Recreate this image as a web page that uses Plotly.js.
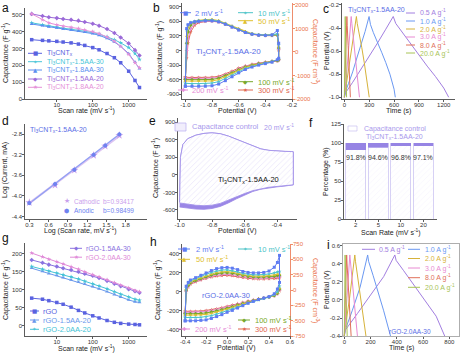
<!DOCTYPE html>
<html><head><meta charset="utf-8">
<script src="https://cdn.plot.ly/plotly-3.0.1.min.js"></script>
<style>html,body{margin:0;padding:0;background:#fff}#chart{width:460px;height:355px}</style>
</head><body><div id="chart"></div>
<script>
// ---------- DATA ----------
// (a) capacitance vs scan rate
const RATES = [2,4,6,10,15,25,40,60,100,150,250,400,600,1000,1500,2000];
const A_TI3CNTX   = [352,348,345,342,338,333,326,318,305,292,270,245,215,165,110,68];
const A_15AA30    = [452,440,433,427,420,414,408,402,394,385,370,352,333,305,270,235];
const A_18AA30    = [445,435,428,422,416,410,404,398,388,378,360,338,312,270,220,180];
const A_15AA20    = [505,492,485,480,475,470,465,457,447,435,415,392,365,330,290,258];
const A_18AA20    = [505,470,452,440,432,425,418,410,400,388,368,343,312,265,215,185];
// (b) CV loops, Ti3CNTx-1.5AA-20
const B_POT = [-1.0,-0.99,-0.98,-0.96,-0.93,-0.9,-0.85,-0.8,-0.75,-0.7,-0.65,-0.6,-0.55,-0.5,-0.45,-0.4,-0.35,-0.31,-0.3,
               -0.3,-0.31,-0.35,-0.4,-0.45,-0.5,-0.55,-0.6,-0.65,-0.7,-0.75,-0.8,-0.85,-0.9,-0.95,-1.0];
const B_2   = [-735,450,530,570,590,600,610,610,590,540,480,420,370,335,315,310,320,410,150,
               -160,-190,-240,-270,-300,-340,-390,-460,-540,-620,-690,-725,-735,-735,-735,-735];
const B_10  = [-675,420,520,575,600,615,625,625,600,550,490,430,375,340,320,315,320,340,120,
               -170,-190,-230,-260,-290,-330,-370,-440,-510,-580,-640,-670,-680,-680,-680,-675];
const B_50  = [-625,300,470,560,600,620,635,640,615,560,500,440,385,345,325,318,320,330,80,
               -180,-200,-230,-255,-280,-310,-350,-410,-480,-545,-600,-625,-630,-630,-630,-625];
const B_100 = [-595,150,380,520,580,605,620,620,600,550,495,435,380,340,320,312,315,320,50,
               -190,-205,-225,-250,-270,-300,-340,-395,-460,-520,-570,-595,-600,-600,-600,-595];
const B_200 = [-570,0,250,450,550,585,605,610,590,545,490,430,375,335,315,308,310,315,30,
               -195,-210,-225,-245,-265,-290,-325,-375,-440,-500,-550,-570,-575,-575,-575,-570];
const B_300 = [-550,-150,150,380,520,570,595,600,585,540,485,425,370,332,312,305,305,310,0,
               -200,-215,-225,-240,-260,-285,-315,-360,-425,-485,-530,-550,-555,-555,-555,-550];
// (c) GCD, Ti3CNTx-1.5AA-20
const C05_T = [0,15,100,200,300,400,500,590,620,700,800,900,1000,1100,1200,1260];
const C05_V = [-1.0,-0.96,-0.87,-0.76,-0.65,-0.53,-0.41,-0.30,-0.36,-0.44,-0.53,-0.64,-0.73,-0.82,-0.92,-1.0];
const C1_T  = [0,8,50,100,150,200,250,298,315,350,400,450,500,550,600,615];
const C1_V  = [-1.0,-0.96,-0.88,-0.78,-0.66,-0.55,-0.43,-0.30,-0.37,-0.44,-0.52,-0.61,-0.70,-0.80,-0.93,-1.0];
const C2_T  = [0,4,25,50,75,100,125,145,155,180,210,240,270,300];
const C2_V  = [-1.0,-0.96,-0.88,-0.76,-0.63,-0.50,-0.39,-0.30,-0.36,-0.45,-0.57,-0.70,-0.83,-1.0];
const C3_T  = [0,3,20,40,60,82,90,110,130,150,170,182];
const C3_V  = [-1.0,-0.96,-0.86,-0.70,-0.53,-0.30,-0.36,-0.50,-0.64,-0.78,-0.91,-1.0];
const C8_T  = [0,2,10,20,30,34,45,55,65,72];
const C8_V  = [-1.0,-0.95,-0.80,-0.58,-0.30,-0.38,-0.55,-0.70,-0.86,-1.0];
const C20_T = [0,1,5,10,12,17,22,26];
const C20_V = [-1.0,-0.94,-0.68,-0.30,-0.38,-0.60,-0.82,-1.0];
// (d) log current vs log scan rate
const D_LOGV = [0.30,0.70,1.00,1.30,1.48,1.70];
const D_CATH = [-4.13,-3.79,-3.50,-3.21,-3.03,-2.82];
const D_ANOD = [-4.14,-3.77,-3.49,-3.20,-3.02,-2.80];
const D_FIT_X = [0.30,1.70];
const D_FIT_CATH = [-4.14,-2.83];
const D_FIT_ANOD = [-4.15,-2.80];
// (e) capacitive contribution at 20 mV/s
const E_POT = [-1.0,-0.995,-0.98,-0.95,-0.9,-0.85,-0.8,-0.75,-0.7,-0.65,-0.6,-0.55,-0.5,-0.45,-0.4,-0.35,-0.31,-0.3,
               -0.3,-0.31,-0.35,-0.4,-0.45,-0.5,-0.55,-0.6,-0.65,-0.7,-0.75,-0.8,-0.85,-0.9,-0.95,-0.99,-1.0];
const E_UP        = [-470,300,520,620,680,710,720,705,665,610,550,490,445,420,408,402,400,395];
const E_LOW_TOTAL = [-170,-175,-190,-205,-220,-245,-285,-345,-410,-480,-540,-575,-590,-585,-570,-560,-550];
const E_LOW_CAP   = [-170,-172,-185,-198,-212,-235,-270,-320,-378,-438,-488,-518,-528,-520,-505,-490,-480];
// (f) capacitive percentage
const F_RATES = ['2','5','10','20'];
const F_CAP = [91.8,94.6,96.8,97.1];
// (g) rGO capacitance vs scan rate
const G_RGO    = [77,74,70,65,60,52,43,36,28,22,15,10,7,5,4,3];
const G_15AA20 = [160,151,145,140,134,128,122,116,109,103,95,87,80,72,67,65];
const G_20AA20 = [165,157,152,147,142,136,130,124,117,111,103,95,88,80,74,71];
const G_15AA30 = [183,175,170,165,160,155,150,145,139,133,125,117,110,102,96,92];
const G_20AA30 = [202,192,185,178,172,164,157,150,142,136,128,120,113,105,98,95];
// (h) CV loops, rGO-2.0AA-30
const H_POT = [-0.4,-0.39,-0.37,-0.35,-0.3,-0.25,-0.2,-0.15,-0.1,-0.05,0.0,0.05,0.1,0.15,0.2,0.25,0.3,0.35,0.4,0.45,0.48,0.5,
               0.5,0.48,0.45,0.4,0.35,0.3,0.25,0.2,0.15,0.1,0.05,0.0,-0.05,-0.1,-0.15,-0.2,-0.25,-0.3,-0.35,-0.4];
const H_2   = [-305,60,100,125,150,175,200,225,245,255,258,250,235,215,205,200,200,205,220,260,310,385,
               100,30,-20,-50,-65,-80,-100,-120,-145,-170,-195,-215,-240,-260,-280,-295,-300,-305,-305,-305];
const H_10  = [-270,40,90,115,140,165,185,205,220,230,232,225,210,195,185,180,180,182,188,200,210,215,
               60,0,-30,-55,-70,-85,-100,-118,-140,-160,-180,-200,-220,-235,-250,-262,-268,-270,-270,-270];
const H_50  = [-245,30,80,105,130,150,170,190,205,212,215,208,195,182,172,168,166,168,172,178,185,190,
               40,-10,-35,-55,-68,-80,-95,-110,-128,-145,-165,-182,-200,-215,-228,-238,-243,-245,-245,-245];
const H_100 = [-230,20,70,95,120,140,160,178,192,200,202,196,185,172,163,158,156,157,160,165,172,175,
               30,-15,-38,-55,-66,-78,-92,-106,-122,-138,-156,-172,-188,-200,-212,-222,-228,-230,-230,-230];
const H_200 = [-215,10,60,88,112,132,150,166,178,185,187,182,172,160,152,147,145,146,148,152,158,160,
               20,-18,-40,-55,-65,-76,-88,-101,-116,-130,-146,-160,-175,-188,-198,-207,-212,-214,-215,-215];
const H_300 = [-205,0,50,80,105,125,142,156,166,172,174,170,160,150,142,137,135,135,137,140,145,148,
               10,-20,-40,-52,-62,-72,-84,-96,-110,-124,-138,-152,-166,-178,-188,-196,-202,-205,-205,-205];
// (i) GCD, rGO-2.0AA-30
const I05_T = [0,10,100,200,300,385,395,450,500,600,700,765];
const I05_V = [-0.40,-0.33,-0.15,0.05,0.26,0.50,0.44,0.33,0.23,0.03,-0.18,-0.40];
const I1_T  = [0,5,60,120,178,185,220,250,300,352];
const I1_V  = [-0.40,-0.34,-0.12,0.14,0.50,0.43,0.27,0.13,-0.12,-0.40];
const I2_T  = [0,3,40,80,85,100,120,140,165];
const I2_V  = [-0.40,-0.35,0.02,0.50,0.43,0.28,0.08,-0.13,-0.40];
const I3_T  = [0,2,20,42,47,60,80,100];
const I3_V  = [-0.40,-0.35,0.02,0.50,0.42,0.24,-0.06,-0.40];
const I8_T  = [0,1,10,18,21,30,40,52];
const I8_V  = [-0.40,-0.34,0.08,0.50,0.40,0.12,-0.14,-0.40];
const I20_T = [0,1,6,8,13,18,22];
const I20_V = [-0.40,-0.30,0.50,0.40,0.05,-0.22,-0.40];

// ---------- STYLE ----------
const FONT = 'Liberation Sans, Arial, sans-serif';
const W = 460, H = 355;
const px = x => x / W, py = y => 1 - y / H;
const ORANGE = '#ea7148', TBLUE = '#5b6ee6', LAV = '#a898ec';
const CV = {c2:'#5f7cf2', c10:'#4cc4c8', c50:'#e0c02f', c100:'#78a82c', c200:'#e58ad6', c300:'#e0654f'};
const GC = {c05:'#a27ee0', c1:'#6a98f2', c2:'#d6b23a', c3:'#e88ad2', c8:'#e0705a', c20:'#a8c456'};
const TI = 'Ti<sub>3</sub>CNT<sub>x</sub>';

const layout = {
  width: W, height: H, margin: {l:0, r:0, t:0, b:0},
  paper_bgcolor: '#fff', plot_bgcolor: 'rgba(0,0,0,0)',
  showlegend: false, barmode: 'stack',
  font: {family: FONT, size: 7, color: '#222'},
  shapes: [], annotations: []
};

// tick values with plain hyphen minus labels
function tv(vals, dec) {
  return {tickvals: vals, ticktext: vals.map(v => (v < 0 ? '-' : '') + Math.abs(v).toFixed(dec))};
}
function baseAx(extra) {
  return Object.assign({
    showgrid: false, zeroline: false, showline: true, linecolor: '#333', linewidth: 0.8,
    ticks: 'outside', ticklen: 2, tickwidth: 0.8, tickcolor: '#333', ticklabelstandoff: -1,
    tickfont: {size: 6, color: '#333', family: FONT}, fixedrange: true
  }, extra);
}
function panel(n, l, r, t, b, xo, yo) {
  const s = n === 1 ? '' : String(n);
  layout['xaxis' + s] = baseAx(Object.assign({domain: [px(l), px(r)], anchor: 'y' + s, ticklabelstandoff: -2}, xo));
  layout['yaxis' + s] = baseAx(Object.assign({domain: [py(b), py(t)], anchor: 'x' + s}, yo));
}
function ann(x, y, text, o) {
  layout.annotations.push(Object.assign({xref: 'paper', yref: 'paper', x: px(x), y: py(y), text: text,
    showarrow: false, xanchor: 'center', yanchor: 'middle', font: {size: 7, color: '#222', family: FONT}}, o || {}));
}
function legItem(x0, x1, y, color, glyph, label, tx, size, gsize) {
  layout.shapes.push({type: 'line', xref: 'paper', yref: 'paper', x0: px(x0), x1: px(x1), y0: py(y), y1: py(y),
    line: {color: color, width: 1}});
  if (glyph) ann((x0 + x1) / 2, y, glyph, {font: {size: gsize || 5.5, color: color, family: 'DejaVu Sans'}});
  ann(tx, y, label, {xanchor: 'left', font: {size: size || 7, color: color, family: FONT}});
}

// ---------- AXES ----------
const logTicks = {type: 'log', range: [0.115, 3.51], tickvals: [10, 100, 1000], ticktext: ['10', '100', '1000']};
panel(1, 25, 147, 8, 99, logTicks, Object.assign({range: [0, 540]}, tv([0,100,200,300,400,500], 0)));
panel(2, 182, 292, 3, 99, Object.assign({range: [-1.025, -0.2]}, tv([-1.0,-0.8,-0.6,-0.4,-0.2], 1)),
      Object.assign({range: [-997, 976]}, tv([-900,-600,-300,0,300,600,900], 0)));
panel(3, 342, 455, 3, 99, Object.assign({range: [-29, 1336]}, tv([0,300,600,900,1200], 0)),
      Object.assign({range: [-1.015, -0.183]}, tv([-1.0,-0.8,-0.6,-0.4,-0.2], 1)));
panel(4, 25, 147, 124, 219, Object.assign({range: [0.233, 2.13]}, tv([0.3,0.6,0.9,1.2,1.5,1.8], 1)),
      Object.assign({range: [-4.45, -2.6]}, tv([-4.4,-4.0,-3.6,-3.2,-2.8], 1)));
panel(5, 178, 297, 118, 219, Object.assign({range: [-1.01, -0.277]}, tv([-1.0,-0.8,-0.6,-0.4], 1)),
      Object.assign({range: [-755, 974]}, tv([-600,-300,0,300,600,900], 0)));
panel(6, 344, 437, 124.3, 219.3, {type: 'category', range: [-0.52, 3.6]},
      Object.assign({range: [0, 125]}, tv([0,25,50,75,100,125], 0)));
panel(7, 25, 147, 243, 336, logTicks, Object.assign({range: [-28, 230]}, tv([0,50,100,150,200], 0)));
panel(8, 182, 290, 244, 336, Object.assign({range: [-0.43, 0.6]}, tv([-0.4,-0.2,0,0.2,0.4,0.6], 1)),
      Object.assign({range: [-465, 505]}, tv([-400,-200,0,200,400], 0)));
panel(9, 343, 459, 244, 336, Object.assign({range: [-10, 874], mirror: true, linecolor: '#9a9a9a'}, tv([0,200,400,600,800], 0)),
      Object.assign({range: [-0.4, 0.622], mirror: true, linecolor: '#9a9a9a'}, tv([-0.4,-0.2,0,0.2,0.4,0.6], 1)));
const rightAx = (ov, anc, rng, vals) => baseAx(Object.assign({overlaying: ov, side: 'right', anchor: anc, range: rng,
  linecolor: ORANGE, tickcolor: ORANGE, tickfont: {size: 6, color: ORANGE, family: FONT}}, tv(vals, 0)));
layout.yaxis10 = rightAx('y2', 'x2', [-2000, 2080], [-2000,-1000,0,1000,2000]);
layout.yaxis11 = rightAx('y8', 'x8', [-750, 750], [-750,-500,-250,0,250,500,750]);

// ---------- TRACES ----------
const traces = [];
function line(xa, ya, x, y, color, sym, o) {
  traces.push(Object.assign({type: 'scatter', mode: sym ? 'lines+markers' : 'lines', x: x, y: y, xaxis: xa, yaxis: ya,
    line: {color: color, width: 1}, marker: {symbol: sym || 'circle', size: 3.5, color: color},
    hoverinfo: 'skip'}, o || {}));
}
const cvm = (s, c) => ({marker: {symbol: s, size: 3, color: c}});
// a
line('x','y', RATES, A_TI3CNTX, '#5a62e0', 'square');
line('x','y', RATES, A_15AA30, '#48c6d8', 'star');
line('x','y', RATES, A_18AA30, '#5a8ef0', 'triangle-up');
line('x','y', RATES, A_15AA20, '#9b6ad8', 'diamond');
line('x','y', RATES, A_18AA20, '#e590d8', 'star');
// b
line('x2','y2', B_POT, B_300, CV.c300, 'star', cvm('star', CV.c300));
line('x2','y2', B_POT, B_200, CV.c200, 'cross', cvm('cross', CV.c200));
line('x2','y2', B_POT, B_100, CV.c100, 'diamond', cvm('diamond', CV.c100));
line('x2','y2', B_POT, B_50, CV.c50, 'triangle-up', cvm('triangle-up', CV.c50));
line('x2','y2', B_POT, B_10, CV.c10, 'star', cvm('star', CV.c10));
line('x2','y2', B_POT, B_2, CV.c2, 'square', cvm('square', CV.c2));
traces.push({type:'scatter', x:[], y:[], xaxis:'x2', yaxis:'y10'});
// c
line('x3','y3', C05_T, C05_V, GC.c05);
line('x3','y3', C1_T, C1_V, GC.c1);
line('x3','y3', C2_T, C2_V, GC.c2);
line('x3','y3', C3_T, C3_V, GC.c3);
line('x3','y3', C8_T, C8_V, GC.c8);
line('x3','y3', C20_T, C20_V, GC.c20);
// d
line('x4','y4', D_FIT_X, D_FIT_CATH, '#dcc4f2', null, {line:{color:'#dcc4f2', width:2.2}});
line('x4','y4', D_FIT_X, D_FIT_ANOD, '#8fa0f4', null, {line:{color:'#8fa0f4', width:1.2}});
traces.push({type:'scatter', mode:'markers', x:D_LOGV, y:D_CATH, xaxis:'x4', yaxis:'y4', hoverinfo:'skip',
  marker:{symbol:'star', size:6, color:'#c9a0ec'}});
traces.push({type:'scatter', mode:'markers', x:D_LOGV, y:D_ANOD, xaxis:'x4', yaxis:'y4', hoverinfo:'skip',
  marker:{symbol:'hexagon', size:4.5, color:'#6f82f0'}});
// e
traces.push({type:'scatter', mode:'lines', x:E_POT, y:E_UP.concat(E_LOW_TOTAL), xaxis:'x5', yaxis:'y5',
  fill:'toself', fillcolor:'#9a86e6', line:{color:'#9a86e6', width:0.8}, hoverinfo:'skip'});
traces.push({type:'scatter', mode:'lines', x:E_POT, y:E_UP.concat(E_LOW_CAP), xaxis:'x5', yaxis:'y5',
  fill:'toself', fillcolor:'#ffffff', fillpattern:{shape:'/', fgcolor:'#e2dcf8', bgcolor:'#ffffff', size:4, solidity:0.15},
  line:{color:'#a392ea', width:0.9}, hoverinfo:'skip'});
// f
traces.push({type:'bar', x:F_RATES, y:F_CAP, xaxis:'x6', yaxis:'y6', width:0.88, hoverinfo:'skip',
  marker:{color:'#ffffff', line:{color:'#cdc5f3', width:0.8}, pattern:{shape:'/', fgcolor:'#f0edfc', size:4, solidity:0.1}}});
traces.push({type:'bar', x:F_RATES, y:F_CAP.map(v => 100 - v), xaxis:'x6', yaxis:'y6', width:0.88, hoverinfo:'skip',
  marker:{color:'#9684e4', line:{color:'#9684e4', width:0.5}}});
F_CAP.forEach((v, i) => layout.annotations.push({xref:'x6', yref:'y6', x:i, y:81, text:v.toFixed(1) + '%',
  showarrow:false, xanchor:'center', yanchor:'middle', font:{size:7, color:'#333', family:FONT}}));
// g
line('x7','y7', RATES, G_RGO, '#5a62e0', 'square');
line('x7','y7', RATES, G_15AA20, '#6a98ec', 'triangle-up');
line('x7','y7', RATES, G_20AA20, '#45c3d6', 'star');
line('x7','y7', RATES, G_15AA30, '#8a72e0', 'diamond');
line('x7','y7', RATES, G_20AA30, '#e08ad8', 'star');
// h
line('x8','y8', H_POT, H_300, CV.c300, 'star', cvm('star', CV.c300));
line('x8','y8', H_POT, H_200, CV.c200, 'cross', cvm('cross', CV.c200));
line('x8','y8', H_POT, H_100, CV.c100, 'diamond', cvm('diamond', CV.c100));
line('x8','y8', H_POT, H_50, CV.c50, 'triangle-up', cvm('triangle-up', CV.c50));
line('x8','y8', H_POT, H_10, CV.c10, 'star', cvm('star', CV.c10));
line('x8','y8', H_POT, H_2, CV.c2, 'square', cvm('square', CV.c2));
traces.push({type:'scatter', x:[], y:[], xaxis:'x8', yaxis:'y11'});
// i
line('x9','y9', I05_T, I05_V, GC.c05);
line('x9','y9', I1_T, I1_V, GC.c1);
line('x9','y9', I2_T, I2_V, GC.c2);
line('x9','y9', I3_T, I3_V, GC.c3);
line('x9','y9', I8_T, I8_V, GC.c8);
line('x9','y9', I20_T, I20_V, GC.c20);

// ---------- TEXT: panel letters, axis titles, legends, labels ----------
const LET = {size: 12, color: '#111', family: FONT};
[['a',5,8],['b',156,8],['c',326,9],['d',5,121],['e',152,121],['f',311,123],['g',5,238],['h',153,242],['i',328,245]]
  .forEach(([t, x, y]) => ann(x, y, t, {font: LET}));

const CAPG = 'Capacitance (F g<sup>-1</sup>)', CAPV = 'Capacitance (F cm<sup>-3</sup>)';
const SR = 'Scan rate (mV s<sup>-1</sup>)', POT = 'Potential (V)';
const RT = {size: 7, color: ORANGE, family: FONT};
// a
ann(5, 53, CAPG, {textangle: -90}); ann(86, 110.5, SR);
// b
ann(159, 51, CAPG, {textangle: -90}); ann(237, 110.5, POT);
ann(316, 51, CAPV, {textangle: 90, font: RT});
// c
ann(327, 51, POT, {textangle: -90}); ann(398, 110.5, 'Time (s)');
// d
ann(5, 170, 'Log (Current, mA)', {textangle: -90}); ann(80, 230.5, 'Log (Scan rate, mV s<sup>-1</sup>)');
// e
ann(155, 168, CAPG, {textangle: -90}); ann(237, 230.5, POT);
// f
ann(326, 172, 'Percentage (%)', {textangle: -90}); ann(391, 232, 'Scan Rate (mV s<sup>-1</sup>)');
// g
ann(5, 290, CAPG, {textangle: -90}); ann(86, 348, SR);
// h
ann(157, 290, CAPG, {textangle: -90}); ann(236, 348, POT);
ann(316, 290, CAPV, {textangle: 90, font: RT});
// i
ann(327, 290, POT, {textangle: -90}); ann(401, 348, 'Time (s)');

// legends a
legItem(28, 42, 53.3, '#5a62e0', '■', TI, 45);
legItem(28, 42, 61.7, '#48c6d8', '✶', TI + '-1.5AA-30', 45);
legItem(28, 42, 70, '#5a8ef0', '▲', TI + '-1.8AA-30', 45);
legItem(28, 42, 79, '#9b6ad8', '◆', TI + '-1.5AA-20', 45);
legItem(28, 42, 87.3, '#e590d8', '★', TI + '-1.8AA-20', 45);
// legends b
const MV = v => v + ' mV s<sup>-1</sup>';
legItem(180, 191, 12.7, CV.c2, '■', MV(2), 193, 7.5);
legItem(238, 253, 12.7, CV.c10, '✶', MV(10), 256, 7.5);
legItem(238, 253, 20.7, CV.c50, '▲', MV(50), 256, 7.5);
legItem(238, 253, 81.7, CV.c100, '◆', MV(100), 256, 7.5);
legItem(178, 188, 90, CV.c200, '✚', MV(200), 190, 7.5);
legItem(238, 253, 90, CV.c300, '★', MV(300), 256, 7.5);
ann(228, 52, TI + '-1.5AA-20', {font: {size: 8, color: TBLUE, family: FONT}});
// legends c
const AG = v => v + ' A g<sup>-1</sup>';
[['0.5',GC.c05,13],['1.0',GC.c1,21],['2.0',GC.c2,29],['3.0',GC.c3,37],['8.0',GC.c8,45],['20.0',GC.c20,53]]
  .forEach(([v, c, y]) => legItem(406, 415, y, c, null, AG(v), 418, 7));
ann(346, 10, TI + '-1.5AA-20', {xanchor: 'left', font: {size: 7, color: TBLUE, family: FONT}});
// d
ann(28, 130, TI + '-1.5AA-20', {xanchor: 'left', font: {size: 7, color: TBLUE, family: FONT}});
ann(66.7, 201, '★', {font: {size: 7, color: '#c9a0ec', family: 'DejaVu Sans'}});
ann(71.5, 201, 'Cathodic', {xanchor: 'left', font: {size: 6.5, color: '#c9a0ec', family: FONT}});
ann(101, 201, 'b=0.93417', {xanchor: 'left', font: {size: 6.5, color: '#c9a0ec', family: FONT}});
ann(66.7, 210, '⬢', {font: {size: 6, color: '#6f82f0', family: 'DejaVu Sans'}});
ann(71.5, 210, 'Anodic', {xanchor: 'left', font: {size: 6.5, color: '#6f82f0', family: FONT}});
ann(101, 210, 'b=0.98499', {xanchor: 'left', font: {size: 6.5, color: '#6f82f0', family: FONT}});
// e
layout.shapes.push({type: 'rect', xref: 'paper', yref: 'paper', x0: px(175), x1: px(186), y0: py(131), y1: py(123),
  fillcolor: '#f1eefc', line: {color: '#b8aef0', width: 0.7}});
ann(190, 127, 'Capacitance control', {xanchor: 'left', font: {size: 7.5, color: LAV, family: FONT}});
ann(262, 127, MV(20), {xanchor: 'left', font: {size: 7, color: LAV, family: FONT}});
ann(248, 180, TI + '-1.5AA-20', {font: {size: 7.5, color: '#111', family: FONT}});
// f
layout.shapes.push({type: 'rect', xref: 'paper', yref: 'paper', x0: px(348), x1: px(357), y0: py(131), y1: py(126),
  fillcolor: '#ffffff', line: {color: '#c8c0f0', width: 0.7}});
ann(362, 128.5, 'Capacitance control', {xanchor: 'left', font: {size: 7, color: LAV, family: FONT}});
ann(364, 137.5, TI + '-1.5AA-20', {xanchor: 'left', font: {size: 7, color: LAV, family: FONT}});
// g
legItem(70, 82, 248.3, '#8a72e0', '◆', 'rGO-1.5AA-30', 84, 7);
legItem(70, 82, 257.2, '#e08ad8', '★', 'rGO-2.0AA-30', 84, 7);
legItem(30, 39, 311, '#5a62e0', '■', 'rGO', 41, 7.5);
legItem(30, 39, 320, '#6a98ec', '▲', 'rGO-1.5AA-20', 41, 7.5);
legItem(30, 39, 329.3, '#45c3d6', '✶', 'rGO-2.0AA-20', 41, 7.5);
// h
legItem(178, 190, 249, CV.c2, '■', MV(2), 194, 7.5);
legItem(238, 252, 249, CV.c10, '✶', MV(10), 256, 7.5);
legItem(178, 190, 259.3, CV.c50, '▲', MV(50), 194, 7.5);
legItem(238, 250, 320, CV.c100, '◆', MV(100), 253, 7.5);
legItem(178, 190, 329, CV.c200, '✚', MV(200), 193, 7.5);
legItem(238, 250, 329, CV.c300, '★', MV(300), 253, 7.5);
ann(226, 295, 'rGO-2.0AA-30', {font: {size: 7.5, color: TBLUE, family: FONT}});
// i
legItem(362, 375, 249.3, GC.c05, null, AG('0.5'), 377, 7);
[['1.0',GC.c1,249.3],['2.0',GC.c2,258.5],['3.0',GC.c3,268],['8.0',GC.c8,277.7],['20.0',GC.c20,287.3]]
  .forEach(([v, c, y]) => legItem(408, 420, y, c, null, AG(v), 423, 7));
ann(410, 331, 'rGO-2.0AA-30', {font: {size: 6.5, color: TBLUE, family: FONT}});

Plotly.newPlot('chart', traces, layout, {staticPlot: true, displayModeBar: false});
</script></body></html>
